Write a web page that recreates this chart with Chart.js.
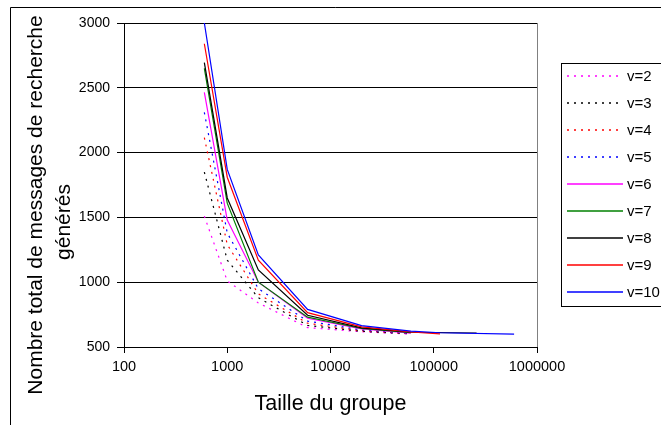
<!DOCTYPE html>
<html lang="fr">
<head>
<meta charset="utf-8">
<title>Messages de recherche générés</title>
<script src="https://cdn.jsdelivr.net/npm/chart.js@4.4.0/dist/chart.umd.min.js"></script>
<style>
  html, body { margin: 0; padding: 0; background: #fff; }
</style>
</head>
<body>
<canvas id="chart" width="661" height="425"></canvas>
<script>
// ----------------------
// Données : taille du groupe -> nombre total de messages
// ----------------------
const tailles = [600, 1000, 2000, 6000, 20000, 60000];
const taillesV8 = [600, 1000, 2000, 6000, 20000, 60000, 260000];
const taillesV9 = [600, 1000, 2000, 6000, 20000, 60000, 115000];
const taillesV10 = [600, 1000, 2000, 6000, 20000, 60000, 115000, 600000];

const v2 = [1510, 1010, 840, 650, 617, 600];
const v3 = [1850, 1170, 880, 667, 621, 602];
const v4 = [2115, 1290, 910, 683, 626, 603];
const v5 = [2310, 1380, 950, 700, 632, 605];
const v6 = [2465, 1480, 1000, 722, 640, 607];
const v7 = [2650, 1610, 1000, 730, 643, 610];
const v8 = [2695, 1650, 1095, 745, 648, 614, 608];
const v9 = [2840, 1810, 1170, 765, 655, 617, 602];
const v10 = [3000, 1870, 1210, 790, 665, 622, 610, 600];

const decades = [100, 1000, 10000, 100000, 1000000];
const yTicks = [500, 1000, 1500, 2000, 2500, 3000];

const titreY = ["Nombre total de messages de recherche", "générés"];
const titreX = "Taille du groupe";

const FONT = "'Liberation Sans', Arial, sans-serif";
const POINTILLE = [2, 5];

// ----------------------
// Séries
// ----------------------
const series = [
  { label: "v=2", xs: tailles, ys: v2, color: "#ff00ff", dash: POINTILLE },
  { label: "v=3", xs: tailles, ys: v3, color: "#000000", dash: POINTILLE },
  { label: "v=4", xs: tailles, ys: v4, color: "#ff0000", dash: POINTILLE },
  { label: "v=5", xs: tailles, ys: v5, color: "#0000ff", dash: POINTILLE },
  { label: "v=6", xs: tailles, ys: v6, color: "#ff00ff", dash: [] },
  { label: "v=7", xs: tailles, ys: v7, color: "#008000", dash: [] },
  { label: "v=8", xs: taillesV8, ys: v8, color: "#000000", dash: [] },
  { label: "v=9", xs: taillesV9, ys: v9, color: "#ff0000", dash: [] },
  { label: "v=10", xs: taillesV10, ys: v10, color: "#0000ff", dash: [] }
];

const datasets = series.map((s, i) => ({
  label: s.label,
  data: s.xs.map((x, k) => ({ x, y: s.ys[k] })),
  borderColor: s.color,
  borderDash: s.dash,
  borderWidth: 1.2,
  showLine: true,
  pointRadius: 0,
  tension: 0,
  order: series.length - i // dernière série dessinée au-dessus
}));

// ----------------------
// Cadre, titre vertical et légende
// ----------------------
const decor = {
  id: "decor",
  beforeDraw(chart) {
    const ctx = chart.ctx;
    ctx.save();
    ctx.fillStyle = "#fff";
    ctx.fillRect(0, 0, chart.width, chart.height);
    ctx.strokeStyle = "#000";
    ctx.lineWidth = 1;
    ctx.beginPath();
    ctx.moveTo(10.5, chart.height);
    ctx.lineTo(10.5, 7.5);
    ctx.lineTo(chart.width, 7.5);
    ctx.stroke();
    ctx.restore();
  },
  afterDatasetsDraw(chart) {
    const { ctx, chartArea: a } = chart;
    ctx.save();
    ctx.strokeStyle = "#808080";
    ctx.lineWidth = 1;
    ctx.beginPath();
    ctx.moveTo(Math.round(a.right) + 0.5, a.top);
    ctx.lineTo(Math.round(a.right) + 0.5, a.bottom);
    ctx.stroke();
    ctx.restore();
  },
  afterDraw(chart) {
    const ctx = chart.ctx;
    ctx.save();

    // titre de l'axe des ordonnées, sur deux lignes
    ctx.fillStyle = "#000";
    ctx.font = "21px " + FONT;
    ctx.textAlign = "center";
    ctx.textBaseline = "middle";
    const pos = [[36, 205], [64, 222]];
    titreY.forEach((t, i) => {
      ctx.save();
      ctx.translate(pos[i][0], pos[i][1]);
      ctx.rotate(-Math.PI / 2);
      ctx.fillText(t, 0, 0);
      ctx.restore();
    });

    // légende
    ctx.strokeStyle = "#000";
    ctx.lineWidth = 1;
    ctx.strokeRect(561.5, 63.5, 140, 243);
    ctx.font = "15px " + FONT;
    ctx.textAlign = "left";
    chart.data.datasets.forEach((ds, i) => {
      const y = 76 + i * 27;
      ctx.strokeStyle = ds.borderColor;
      ctx.lineWidth = 1.5;
      ctx.setLineDash(ds.borderDash);
      ctx.beginPath();
      ctx.moveTo(567, y);
      ctx.lineTo(623, y);
      ctx.stroke();
      ctx.setLineDash([]);
      ctx.fillStyle = "#000";
      ctx.fillText(ds.label, 627, y + 1);
    });
    ctx.restore();
  }
};

// ----------------------
// Graphique
// ----------------------
new Chart(document.getElementById("chart").getContext("2d"), {
  type: "scatter",
  data: { datasets },
  plugins: [decor],
  options: {
    responsive: false,
    animation: false,
    layout: { padding: { top: 23, right: 124, left: 0, bottom: 0 } },
    plugins: { legend: { display: false }, tooltip: { enabled: false } },
    scales: {
      x: {
        type: "logarithmic",
        min: 100,
        max: 1000000,
        afterBuildTicks: s => { s.ticks = decades.map(value => ({ value })); },
        afterFit: s => { s.height = 78; },
        ticks: {
          callback: v => String(v),
          font: { family: FONT, size: 14.5 },
          color: "#000",
          padding: 5,
          maxRotation: 0,
          autoSkip: false
        },
        grid: { drawOnChartArea: false, drawTicks: true, tickLength: 6, color: "#000" },
        border: { color: "#000", width: 1 },
        title: {
          display: true,
          text: titreX,
          color: "#000",
          font: { family: FONT, size: 21.5 },
          padding: { top: 0, bottom: 8 }
        }
      },
      y: {
        type: "linear",
        min: 500,
        max: 3000,
        afterBuildTicks: s => { s.ticks = yTicks.map(value => ({ value })); },
        afterFit: s => { s.width = 124; },
        ticks: {
          callback: v => String(v),
          font: { family: FONT, size: 14 },
          color: "#000",
          padding: 7
        },
        grid: { color: "#000", drawTicks: true, tickLength: 7 },
        border: { color: "#000", width: 1 }
      }
    }
  }
});
</script>
</body>
</html>
